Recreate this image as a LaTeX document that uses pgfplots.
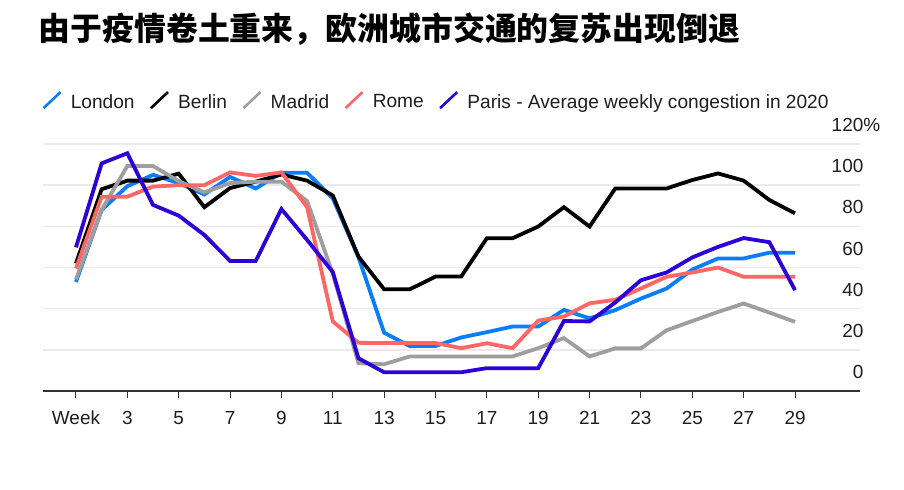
\documentclass[border=0pt]{standalone}
\usepackage{fontspec}
\usepackage{pgfplots}
\pgfplotsset{compat=1.18}
\setmainfont{Liberation Sans}
\newfontfamily\cjk{Noto Sans CJK SC}
\definecolor{cLondon}{RGB}{8,126,255}
\definecolor{cBerlin}{RGB}{0,0,0}
\definecolor{cMadrid}{RGB}{158,158,158}
\definecolor{cRome}{RGB}{255,102,102}
\definecolor{cParis}{RGB}{44,0,214}
\definecolor{cText}{RGB}{30,30,30}
\definecolor{cGrid}{RGB}{234,234,234}
\definecolor{cAxis}{RGB}{50,50,50}
\begin{document}
\begin{tikzpicture}
\path[use as bounding box] (0bp,0bp) rectangle (904bp,490bp);
\node[anchor=west, inner sep=0pt, font=\cjk\bfseries\fontsize{32}{35}\selectfont] at (38.5bp,461bp) {由于疫情卷土重来，欧洲城市交通的复苏出现倒退};
\begin{axis}[
  at={(43bp,99bp)}, anchor=south west,
  scale only axis, width=817bp, height=247bp,
  xmin=-0.284, xmax=31.53, ymin=0, ymax=120,
  axis x line=bottom, axis y line=right,
  x axis line style={-, draw=cAxis, line width=1.8bp},
  y axis line style={draw=none},
  xtick={1,3,...,29},
  xticklabels={Week,3,5,7,9,11,13,15,17,19,21,23,25,27,29},
  ytick={0,20,...,120},
  yticklabels={0,20,40,60,80,100,120\rlap{\%}},
  xtick align=outside,
  x tick style={draw=cAxis, line width=1bp},
  major tick length=7bp,
  y tick style={draw=none},
  ymajorgrids=true,
  grid style={draw=cGrid, line width=1.4bp},
  tick label style={font=\fontsize{19}{22}\selectfont, text=cText},
  /pgf/number format/assume math mode=true,
  xticklabel style={inner sep=0pt, anchor=north, yshift=-13bp},
  yticklabel style={inner sep=0pt, anchor=south east, yshift=12bp},
  legend columns=-1,
  legend style={draw=none, fill=none, inner sep=0pt,
    at={(0,1)}, anchor=south west, yshift=34bp, xshift=-1bp,
    font=\fontsize{19.2}{22}\selectfont, text=cText,
    nodes={inner sep=0pt},
    /tikz/every odd column/.append style={column sep=9bp},
    /tikz/every even column/.append style={column sep=15bp}},
  legend image code/.code={\draw[#1, line width=2.6bp] (0bp,-6bp) -- (17bp,10bp);},
  every axis plot/.append style={line width=3.8bp},
]
\addplot[cLondon] coordinates {(1,53) (2,88) (3,99.5) (4,105) (5,101) (6,95.5) (7,104) (8,98.4) (9,106) (10,106) (11,93.6) (12,65) (13,28.3) (14,21.8) (15,21.9) (16,26) (17,28.6) (18,31.3) (19,31.3) (20,39.4) (21,35.3) (22,39.3) (23,44.9) (24,49.8) (25,59) (26,64.4) (27,64.4) (28,67.2) (29,67.2)};
\addlegendentry{London}
\addplot[cBerlin] coordinates {(1,62) (2,98) (3,102.2) (4,102.2) (5,105.6) (6,89.3) (7,98.6) (8,101.7) (9,105.2) (10,102.2) (11,95) (12,65.3) (13,49.4) (14,49.4) (15,55.6) (16,55.6) (17,74.2) (18,74.2) (19,79.9) (20,89.3) (21,79.9) (22,98.4) (23,98.4) (24,98.4) (25,102.5) (26,105.7) (27,102.2) (28,92.8) (29,86.3)};
\addlegendentry{Berlin}
\addplot[cMadrid] coordinates {(1,54.2) (2,88) (3,109.3) (4,109.3) (5,102) (6,96.5) (7,101) (8,101.7) (9,101.7) (10,92.3) (11,57) (12,13.5) (13,13) (14,16.8) (15,16.8) (16,16.8) (17,16.8) (18,16.8) (19,20.8) (20,25.7) (21,16.8) (22,20.7) (23,20.7) (24,29.5) (25,34) (26,38.4) (27,42.5) (28,38.1) (29,33.6)};
\addlegendentry{Madrid}
\addplot[cRome] coordinates {(1,59.5) (2,94.4) (3,94.4) (4,99.3) (5,100) (6,100) (7,106.2) (8,104.5) (9,106.2) (10,89.3) (11,33.8) (12,23.4) (13,23.3) (14,23.3) (15,23.3) (16,20.8) (17,23.2) (18,20.8) (19,34.2) (20,36.2) (21,42.6) (22,44.3) (23,49.8) (24,55.5) (25,57.6) (26,60) (27,55.5) (28,55.5) (29,55.5)};
\addlegendentry{Rome}
\addplot[cParis] coordinates {(1,69.8) (2,110.6) (3,115.5) (4,90.4) (5,85.2) (6,75.8) (7,63.2) (8,63.2) (9,88.4) (10,73.4) (11,57.8) (12,15.9) (13,9.1) (14,9.1) (15,9.1) (16,9.1) (17,11.1) (18,11.1) (19,11.1) (20,34) (21,33.8) (22,43) (23,53.8) (24,57.6) (25,64.9) (26,70) (27,74.3) (28,72.3) (29,49)};
\addlegendentry{Paris - Average weekly congestion in 2020}
\end{axis}
\end{tikzpicture}
\end{document}
